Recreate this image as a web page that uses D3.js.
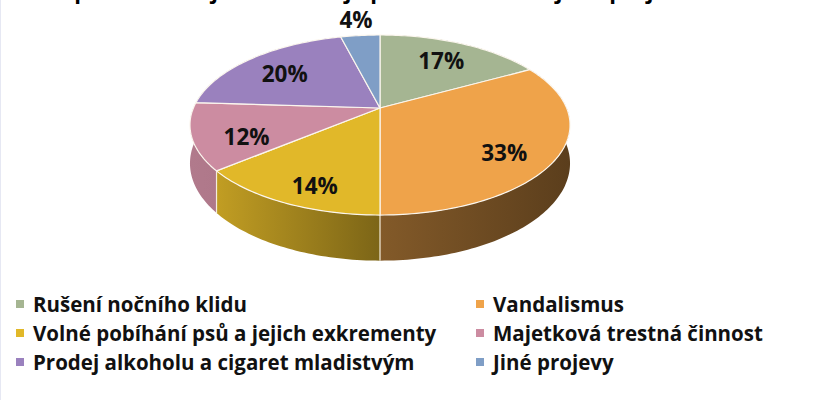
<!DOCTYPE html>
<html>
<head>
    <meta charset="utf-8">
    <title>Projevy v obci</title>
    <script src="https://d3js.org/d3.v7.min.js"></script>
    <style>
        body { margin: 0; padding: 0; background: #fff; }
        svg { display: block; font-family: "Open Sans", Lato, sans-serif; font-weight: bold; }
    </style>
</head>
<body>
    <div id="chart"></div>

    <script>
// data (percent)
const categories = [
    "Rušení nočního klidu",
    "Vandalismus",
    "Volné pobíhání psů a jejich exkrementy",
    "Majetková trestná činnost",
    "Prodej alkoholu a cigaret mladistvým",
    "Jiné projevy"
];
const values = [17, 33, 14, 12, 20, 4];
const colors = ["#a5b592", "#efa34a", "#e1b829", "#cc8ca1", "#9a81be", "#7f9ec6"];
const title = "Co podle vás nejvíce narušuje pořádek v obci a jeho projev";

const width = 815;
const height = 400;

// 3d pie geometry (perspective tilt)
const cx = 380, cy = 108;
const rx = 186.6, ry = 86.8;
const persp = 0.189;
const depth = 37;

const svg = d3.select("#chart")
  .append("svg")
    .attr("width", width)
    .attr("height", height);

svg.append("line")
    .attr("x1", 0.5).attr("x2", 0.5)
    .attr("y1", 0).attr("y2", height)
    .attr("stroke", "#e6e8f3");

// title, cut off by the top edge like in the source
svg.append("text")
    .attr("x", 360)
    .attr("y", -1)
    .attr("text-anchor", "middle")
    .style("font-size", "22px")
    .text(title);

// angle 0 = 12 o'clock, clockwise; r = radial fraction, z = 0 top / 1 bottom
function project(a, r, z) {
    const u = Math.sin(a) * r, v = Math.cos(a) * r;
    const w = 1 + persp * v;
    return [cx + rx * u / w, cy + (-ry * v + depth * z) / w];
}

function arcPoints(a0, a1, z) {
    const n = Math.max(2, Math.ceil((a1 - a0) / 0.02));
    return d3.range(n + 1).map(i => project(a0 + (a1 - a0) * i / n, 1, z));
}

const pie = d3.pie().sort(null).value(d => d);
const slices = pie(values);
const line = d3.line();

// side shading: light at left, dark at right
const defs = svg.append("defs");
const shade = [[cx - 190, 0.87], [cx - 165, 0.86], [cx, 0.55], [cx + 190, 0.38]];
const x0 = cx - 190, x1 = cx + 190;
slices.forEach((d, i) => {
    const g = defs.append("linearGradient")
        .attr("id", "side" + i)
        .attr("gradientUnits", "userSpaceOnUse")
        .attr("x1", x0).attr("x2", x1)
        .attr("y1", 0).attr("y2", 0);
    const base = d3.rgb(colors[i]);
    shade.forEach(([x, f]) => {
        g.append("stop")
            .attr("offset", (x - x0) / (x1 - x0))
            .attr("stop-color", d3.rgb(base.r * f, base.g * f, base.b * f));
    });
});

// outer walls
svg.append("g")
  .selectAll("path")
  .data(slices)
  .join("path")
    .attr("d", d => {
        const top = arcPoints(d.startAngle, d.endAngle, 0);
        const bottom = arcPoints(d.startAngle, d.endAngle, 1).reverse();
        return line(top.concat(bottom)) + "Z";
    })
    .attr("fill", (d, i) => `url(#side${i})`);

// wall seams on the front half
svg.append("g")
  .selectAll("line")
  .data(slices.filter(d => d.startAngle > Math.PI / 2 && d.startAngle < Math.PI * 1.5))
  .join("line")
    .attr("x1", d => project(d.startAngle, 1, 0)[0])
    .attr("y1", d => project(d.startAngle, 1, 0)[1])
    .attr("x2", d => project(d.startAngle, 1, 1)[0])
    .attr("y2", d => project(d.startAngle, 1, 1)[1])
    .attr("stroke", "#f4ecdc")
    .attr("stroke-width", 1.2);

// top faces
svg.append("g")
  .selectAll("path")
  .data(slices)
  .join("path")
    .attr("d", d => line([[cx, cy]].concat(arcPoints(d.startAngle, d.endAngle, 0))) + "Z")
    .attr("fill", (d, i) => colors[i])
    .attr("stroke", "#fbf6ee")
    .attr("stroke-width", 1.2)
    .attr("stroke-linejoin", "round");

// data labels
svg.append("g")
  .selectAll("text")
  .data(slices)
  .join("text")
    .attr("transform", d => {
        const a = (d.startAngle + d.endAngle) / 2;
        const outside = d.value < 5;
        const p = project(a, outside ? 1.27 : 0.72, 0);
        const dy = outside ? 0 : 7 * (1 - Math.cos(a));
        return `translate(${p[0]},${p[1] + dy})`;
    })
    .attr("text-anchor", "middle")
    .attr("dy", "0.36em")
    .style("font-size", "22.5px")
    .attr("fill", "#111")
    .text(d => d.value + "%");

// legend, two columns
const legend = svg.append("g")
  .selectAll("g")
  .data(categories)
  .join("g")
    .attr("transform", (d, i) => `translate(${i % 2 ? 476 : 16},${312 + Math.floor(i / 2) * 29})`);

legend.append("rect")
    .attr("y", -12)
    .attr("width", 8)
    .attr("height", 8)
    .attr("fill", (d, i) => colors[i]);

legend.append("text")
    .attr("x", 17)
    .style("font-size", "20.5px")
    .attr("fill", "#111")
    .text(d => d);
    </script>
</body>
</html>
